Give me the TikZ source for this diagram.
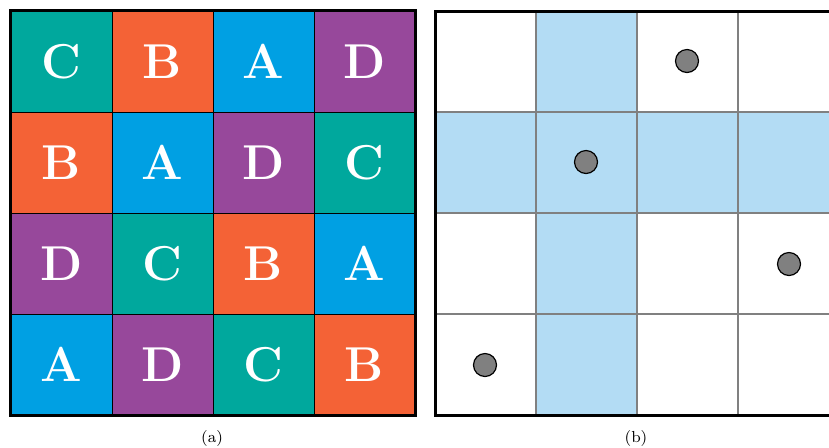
\documentclass[tikz,border=0pt]{standalone}
\definecolor{colA}{RGB}{0,160,227}
\definecolor{colB}{RGB}{244,98,54}
\definecolor{colC}{RGB}{0,168,157}
\definecolor{colD}{RGB}{151,72,155}
\definecolor{lblue}{RGB}{179,220,244}
\begin{document}
\begin{tikzpicture}[x=0.5pt,y=-0.5pt,
  cell/.style={draw=black, line width=0.5pt, minimum size=50.5pt, inner sep=0pt,
    text=white, font=\fontsize{24.5}{24.5}\selectfont\bfseries},
  dot/.style={circle, draw=black, line width=0.6pt, fill=gray, minimum size=11.5pt, inner sep=0pt},
  captext/.style={font=\fontsize{8}{9}\selectfont, inner sep=0pt},
  gline/.style={draw=gray, line width=0.55pt},
  border/.style={draw=black, line width=1.5pt}]
\useasboundingbox (0,0) rectangle (829,447);
\begin{scope}
\clip (0,0) rectangle (829,447);
% (a) Latin square
\foreach \c/\r/\L in {0/0/C,1/0/B,2/0/A,3/0/D,
                      0/1/B,1/1/A,2/1/D,3/1/C,
                      0/2/D,1/2/C,2/2/B,3/2/A,
                      0/3/A,1/3/D,2/3/C,3/3/B}{
  \node[cell, fill=col\L] (L\r\c) at ({61.5+101*\c},{61.5+101*\r}) {\L};
}
\draw[border] (L00.north west) rectangle (L33.south east);
% (b) grid
\coordinate (bnw) at (435,11);
\coordinate (bse) at (839,415);
\fill[lblue] (536,11) rectangle (637,415);
\fill[lblue] (435,112) rectangle (839,213);
\foreach \i in {1,2,3}{
  \draw[gline] ({435+101*\i},11) -- ({435+101*\i},415);
  \draw[gline] (435,{11+101*\i}) -- (839,{11+101*\i});
}
\draw[border] (bnw) rectangle (bse);
\node[dot] (p1) at (687,61) {};
\node[dot] (p2) at (586,162) {};
\node[dot] (p3) at (789,264) {};
\node[dot] (p4) at (485,365) {};
\end{scope}
\node[captext] (capa) at (212,438) {(a)};
\node[captext] (capb) at (636,438) {(b)};
\end{tikzpicture}
\end{document}
